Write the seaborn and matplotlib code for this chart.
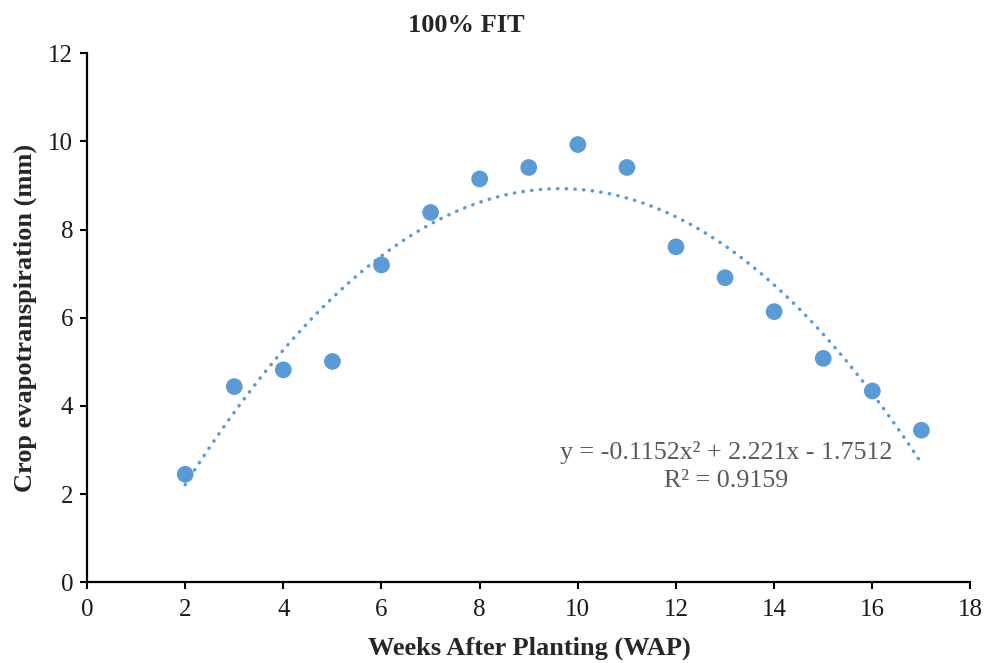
import matplotlib
matplotlib.use("Agg")
import matplotlib.pyplot as plt
import seaborn as sns
import numpy as np
import pandas as pd

weeks = [2, 3, 4, 5, 6, 7, 8, 9, 10, 11, 12, 13, 14, 15, 16, 17]
etc_mm = [2.45, 4.44, 4.82, 5.01, 7.20, 8.39, 9.15, 9.41, 9.93, 9.41, 7.61, 6.91, 6.14, 5.08, 4.34, 3.45]
title = "100% FIT"
xlabel = "Weeks After Planting (WAP)"
ylabel = "Crop evapotranspiration (mm)"
eq_text = "y = -0.1152x\u00b2 + 2.221x - 1.7512"
r2_text = "R\u00b2 = 0.9159"
xticks = list(range(0, 19, 2))
yticks = list(range(0, 13, 2))

df = pd.DataFrame({"WAP": weeks, "ETc": etc_mm})

sns.set_theme(style="white")
plt.rcParams["font.family"] = ["Liberation Serif", "DejaVu Serif"]

fig = plt.figure(figsize=(9.84, 6.63), dpi=100)
ax = fig.add_axes([87 / 984, 1 - 582.3 / 663, (970.5 - 87) / 984, (582.3 - 53.3) / 663])

color = "#5B9BD5"
sns.regplot(data=df, x="WAP", y="ETc", order=2, ci=None, scatter=False, truncate=True, ax=ax,
            line_kws=dict(color=color, lw=2.5, linestyle=(0, (0.1, 2.4)), dash_capstyle="round"))
sns.scatterplot(data=df, x="WAP", y="ETc", ax=ax, color=color, s=145, edgecolor="none", zorder=3)

ax.set_xlim(0, 18)
ax.set_ylim(0, 12)
ax.set_xticks(xticks)
ax.set_yticks(yticks)
ax.set_xlabel("")
ax.set_ylabel("")
for side in ["top", "right"]:
    ax.spines[side].set_visible(False)
for side in ["left", "bottom"]:
    ax.spines[side].set_color("black")
    ax.spines[side].set_linewidth(1.6)
ax.tick_params(axis="both", direction="out", length=5, width=1.5, color="black",
               labelsize=18, labelcolor="#1a1a1a", bottom=True, left=True)
ax.tick_params(axis="x", pad=7)
ax.tick_params(axis="y", pad=5)

fig.text(466 / 984, 1 - 25 / 663, title, ha="center", va="center", fontsize=19, fontweight="bold")
fig.text(529 / 984, 1 - 648 / 663, xlabel, ha="center", va="center", fontsize=19, fontweight="bold")
fig.text(25 / 984, 1 - 318 / 663, ylabel, ha="center", va="center", fontsize=19, fontweight="bold", rotation=90)

fig.text(726 / 984, 1 - 452 / 663, eq_text, ha="center", va="center", fontsize=18.7, color="#595959")
fig.text(726 / 984, 1 - 481 / 663, r2_text, ha="center", va="center", fontsize=18.7, color="#595959")

fig.savefig("out.png", dpi=100)
